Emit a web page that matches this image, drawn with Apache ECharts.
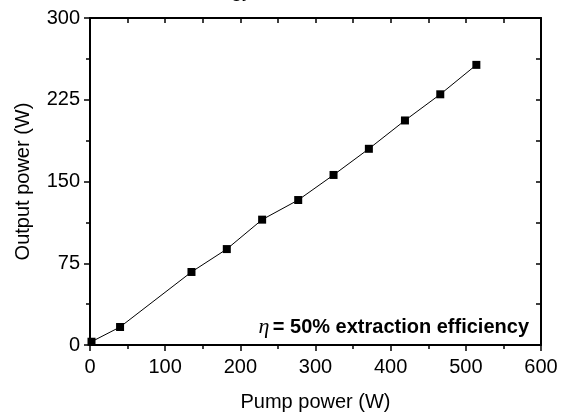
<!DOCTYPE html>
<html>
<head>
<meta charset="utf-8">
<script src="https://cdn.jsdelivr.net/npm/echarts@6/dist/echarts.min.js"></script>
<style>
  html, body { margin: 0; padding: 0; background: #fff; }
  #main { width: 561px; height: 417px; }
</style>
</head>
<body>
<div id="main"></div>
<script>
// data
var pumpPower = [2, 40, 135, 182, 229, 277, 324, 371, 419, 466, 514];
var outputPower = [3, 16.5, 67, 88, 115, 133, 156, 180, 206, 230, 257];
var xTicks = [0, 100, 200, 300, 400, 500, 600];
var yTicks = [0, 75, 150, 225, 300];

var FONT = '"Liberation Sans", Arial, sans-serif';

var points = pumpPower.map(function (x, i) { return [x, outputPower[i]]; });

var chart = echarts.init(document.getElementById('main'));

var frameLine = { color: '#000', width: 2 };
var tickLine = { color: '#000', width: 1.5 };

chart.setOption({
  animation: false,
  backgroundColor: '#fff',
  grid: { left: 90, right: 20, top: 18, bottom: 67 },
  xAxis: [
    {
      type: 'value',
      position: 'bottom',
      min: xTicks[0],
      max: xTicks[xTicks.length - 1],
      interval: 100,
      name: 'Pump power (W)',
      nameLocation: 'middle',
      nameGap: 47,
      nameTextStyle: { fontFamily: FONT, fontSize: 20, color: '#000' },
      axisLine: { show: true, onZero: false, lineStyle: frameLine },
      axisTick: { show: true, inside: false, length: 6, lineStyle: tickLine },
      minorTick: { show: true, splitNumber: 2, length: 4, lineStyle: tickLine },
      axisLabel: { fontFamily: FONT, fontSize: 20, color: '#000', margin: 12 },
      splitLine: { show: false }
    },
    {
      type: 'value',
      position: 'top',
      min: xTicks[0],
      max: xTicks[xTicks.length - 1],
      interval: 50,
      axisLine: { show: true, onZero: false, lineStyle: frameLine },
      axisTick: { show: true, inside: true, length: 5, lineStyle: tickLine },
      axisLabel: { show: false },
      splitLine: { show: false }
    }
  ],
  yAxis: [
    {
      type: 'value',
      position: 'left',
      min: yTicks[0],
      max: yTicks[yTicks.length - 1],
      interval: 75,
      name: 'Output power (W)',
      nameLocation: 'middle',
      nameGap: 57,
      nameTextStyle: { fontFamily: FONT, fontSize: 20, color: '#000' },
      axisLine: { show: true, onZero: false, lineStyle: frameLine },
      axisTick: { show: true, inside: false, length: 6, lineStyle: tickLine },
      minorTick: { show: true, splitNumber: 2, length: 4, lineStyle: tickLine },
      axisLabel: { fontFamily: FONT, fontSize: 20, color: '#000', margin: 10 },
      splitLine: { show: false }
    },
    {
      type: 'value',
      position: 'right',
      min: yTicks[0],
      max: yTicks[yTicks.length - 1],
      interval: 37.5,
      axisLine: { show: true, onZero: false, lineStyle: frameLine },
      axisTick: { show: true, inside: true, length: 5, lineStyle: tickLine },
      axisLabel: { show: false },
      splitLine: { show: false }
    }
  ],
  series: [
    {
      type: 'line',
      data: points,
      xAxisIndex: 0,
      yAxisIndex: 0,
      symbol: 'rect',
      symbolSize: 8,
      itemStyle: { color: '#000' },
      lineStyle: { color: '#000', width: 1 },
      z: 5
    }
  ],
  graphic: [
    {
      // annotation inside the plot
      type: 'text',
      x: 529,
      y: 327,
      style: {
        text: '{eta|η} {b|= 50% extraction efficiency}',
        align: 'right',
        verticalAlign: 'middle',
        rich: {
          eta: { fontFamily: '"Liberation Serif", "Times New Roman", serif', fontStyle: 'italic', fontSize: 22, fill: '#000' },
          b: { fontFamily: FONT, fontWeight: 'bold', fontSize: 20, fill: '#000' }
        }
      }
    },
    {
      // heading cut off at the top edge, only its descenders show
      type: 'text',
      x: 252,
      y: 1,
      style: {
        text: 'Energy',
        align: 'right',
        verticalAlign: 'bottom',
        fontFamily: FONT,
        fontSize: 20,
        fill: '#000'
      }
    }
  ]
});
</script>
</body>
</html>
